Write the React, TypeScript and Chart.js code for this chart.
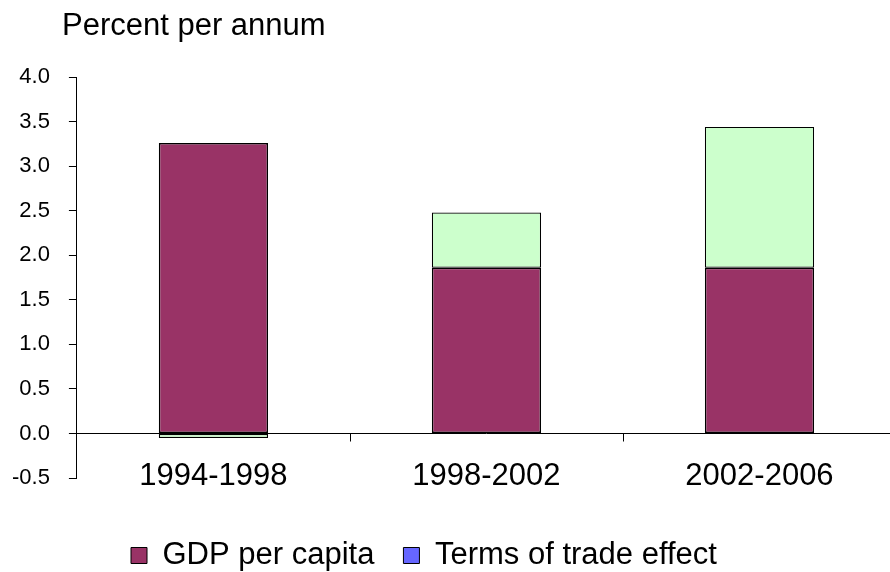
import React, { useEffect, useRef } from "react";
import { Chart, registerables } from "chart.js";

Chart.register(...registerables);

const periods = ["1994-1998", "1998-2002", "2002-2006"];
const gdpPerCapita = [3.26, 1.86, 1.86];
const termsOfTrade = [-0.05, 0.62, 1.58];
const yTicks = [-0.5, 0.0, 0.5, 1.0, 1.5, 2.0, 2.5, 3.0, 3.5, 4.0];

const FONT = "'Liberation Sans', Arial, sans-serif";
const MAROON = "#993366";
const MINT = "#CCFFCC";
const LEGEND_BLUE = "#6666FF";

const LEGEND_GAP = 29;
const LEGEND_LEFT = 131;
const LEGEND_HEIGHT = 61;

// Unit caption, zero baseline with category separators, legend placement.
const decorations = {
  id: "decorations",
  beforeInit(chart: any) {
    const legend = chart.legend;
    if (legend && !legend._fitPatched) {
      const fit = legend.fit.bind(legend);
      legend.fit = function () {
        fit();
        this.height = LEGEND_HEIGHT;
      };
      legend._fitPatched = true;
    }
  },
  afterLayout(chart: any) {
    const legend = chart.legend;
    if (legend) {
      const w = legend.right - legend.left;
      legend.left = LEGEND_LEFT - LEGEND_GAP;
      legend.right = legend.left + w;
    }
  },
  afterDraw(chart: any) {
    const { ctx, scales } = chart;
    const x = scales.x;
    const y = scales.y;
    const y0 = Math.round(y.getPixelForValue(0)) + 0.5;
    ctx.save();
    ctx.strokeStyle = "#000";
    ctx.lineWidth = 1;
    ctx.beginPath();
    ctx.moveTo(x.left, y0);
    ctx.lineTo(x.right, y0);
    const n = periods.length;
    for (let i = 1; i <= n; i++) {
      const bx = Math.round(x.left + (i * (x.right - x.left)) / n) + 0.5;
      ctx.moveTo(bx, y0);
      ctx.lineTo(bx, y0 + 8);
    }
    ctx.stroke();

    ctx.fillStyle = "#000";
    ctx.font = `31px ${FONT}`;
    ctx.textBaseline = "alphabetic";
    ctx.textAlign = "left";
    ctx.fillText("Percent per annum", 62, 35);
    ctx.restore();
  },
};

export default function App() {
  const ref = useRef<HTMLCanvasElement>(null);

  useEffect(() => {
    if (!ref.current) return;
    const chart = new Chart(ref.current, {
      type: "bar",
      data: {
        labels: periods,
        datasets: [
          {
            label: "GDP per capita",
            data: gdpPerCapita,
            backgroundColor: MAROON,
            borderColor: "#000",
            borderWidth: 1.5,
            borderSkipped: false,
          },
          {
            label: "Terms of trade effect",
            data: termsOfTrade,
            backgroundColor: MINT,
            borderColor: "#000",
            borderWidth: 1.2,
            borderSkipped: false,
          },
        ],
      },
      plugins: [decorations],
      options: {
        animation: false,
        responsive: true,
        maintainAspectRatio: false,
        layout: { padding: { top: 77, right: 2, left: -7, bottom: 0 } },
        datasets: { bar: { barPercentage: 0.4, categoryPercentage: 1 } },
        scales: {
          x: {
            stacked: true,
            grid: { display: false, drawTicks: false },
            border: { display: false },
            ticks: {
              color: "#000",
              font: { family: FONT, size: 31 },
              mirror: true,
              padding: -17,
            },
            afterFit: (scale: any) => {
              scale.height = 33;
            },
          },
          y: {
            stacked: true,
            min: -0.5,
            max: 4,
            afterBuildTicks: (scale: any) => {
              scale.ticks = yTicks.map((v) => ({ value: v }));
            },
            grid: {
              drawOnChartArea: false,
              drawTicks: true,
              tickLength: 8,
              color: "#000",
            },
            border: { display: true, color: "#000", width: 1 },
            ticks: {
              color: "#000",
              font: { family: FONT, size: 22 },
              padding: 19,
              callback: (v: any) => Number(v).toFixed(1),
            },
          },
        },
        plugins: {
          title: { display: false },
          tooltip: { enabled: false },
          legend: {
            position: "bottom",
            align: "start",
            labels: {
              color: "#000",
              font: { family: FONT, size: 31 },
              boxWidth: 16,
              boxHeight: 16,
              padding: LEGEND_GAP,
              generateLabels: () => [
                {
                  text: "GDP per capita",
                  fillStyle: MAROON,
                  strokeStyle: "#000",
                  lineWidth: 1,
                  datasetIndex: 0,
                },
                {
                  text: "Terms of trade effect",
                  fillStyle: LEGEND_BLUE,
                  strokeStyle: "#000",
                  lineWidth: 1,
                  datasetIndex: 1,
                },
              ],
            },
          },
        },
      },
    });
    return () => chart.destroy();
  }, []);

  return (
    <div style={{ position: "fixed", left: 0, top: 0, width: 890, height: 572, overflow: "hidden", background: "#fff" }}>
      <div style={{ position: "relative", width: 898, height: 572 }}>
        <canvas ref={ref} />
      </div>
    </div>
  );
}
